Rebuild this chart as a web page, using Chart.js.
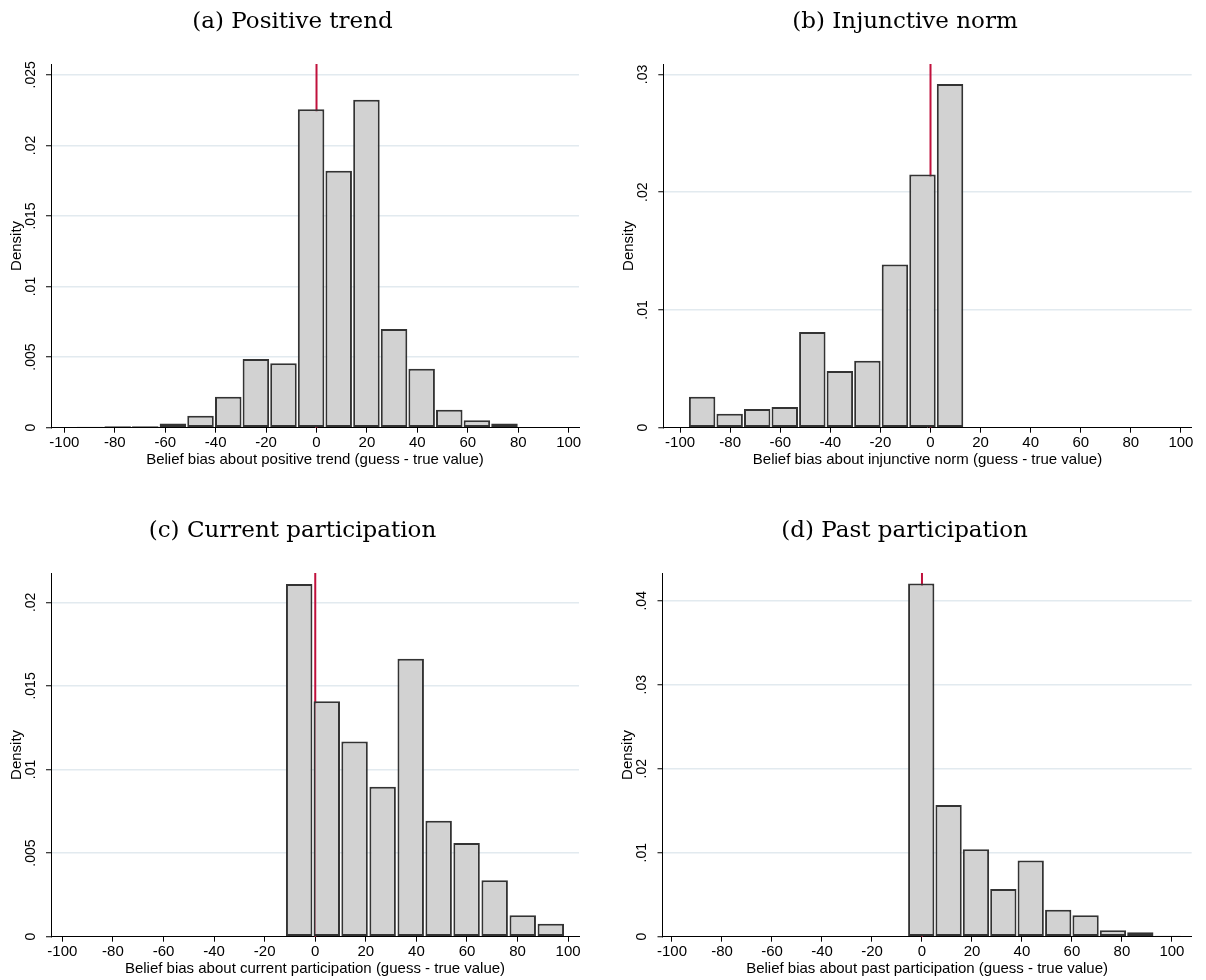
<!DOCTYPE html>
<html>
<head>
<meta charset="utf-8">
<title>Belief bias histograms</title>
<script src="https://cdn.jsdelivr.net/npm/chart.js@4.4.1/dist/chart.umd.min.js"></script>
<style>
  html, body { margin: 0; padding: 0; background: #fff; }
  body { position: relative; width: 1206px; height: 980px; overflow: hidden; }
  .panel { position: absolute; width: 603px; height: 471px; }
</style>
</head>
<body>
<div class="panel" style="left:0;top:0"><canvas id="chart-a"></canvas></div>
<div class="panel" style="left:603px;top:0"><canvas id="chart-b"></canvas></div>
<div class="panel" style="left:0;top:509px"><canvas id="chart-c"></canvas></div>
<div class="panel" style="left:603px;top:509px"><canvas id="chart-d"></canvas></div>
<script>
// histogram bin edges and densities, one pair per panel
let binEdgesA = [-95.3, -84.3, -73.4, -62.4, -51.5, -40.5, -29.5, -18.6, -7.6, 3.3, 14.3, 25.3, 36.2, 47.2, 58.1, 69.1, 80.0, 91.0];
let densityA = [0.00007, 0.0001, 0.0001, 0.0003, 0.00085, 0.0022, 0.00487, 0.00456, 0.02257, 0.0182, 0.02323, 0.007, 0.00418, 0.00127, 0.00052, 0.0003, 0.00005];

let binEdgesB = [-96.7, -85.7, -74.7, -63.7, -52.7, -41.7, -30.7, -19.7, -8.7, 2.3, 13.3];
let densityB = [0.00263, 0.00119, 0.00159, 0.00176, 0.00813, 0.00482, 0.00569, 0.01385, 0.0215, 0.02918];

let binEdgesC = [-11.8, -0.9, 10.0, 21.1, 32.2, 43.3, 54.3, 65.4, 76.5, 87.6, 98.7];
let densityC = [0.0211, 0.01408, 0.01168, 0.00897, 0.01663, 0.00694, 0.0056, 0.00337, 0.00128, 0.00078];

let binEdgesD = [-5.8, 5.2, 16.1, 27.1, 38.0, 49.0, 60.0, 70.9, 81.9, 92.8, 103.8];
let densityD = [0.04207, 0.01567, 0.01042, 0.00569, 0.00907, 0.00322, 0.00254, 0.00076, 0.00052, 0.0001];

// axis ticks
let xTicks = [-100, -80, -60, -40, -20, 0, 20, 40, 60, 80, 100];

let yTicksA = [0, 0.005, 0.01, 0.015, 0.02, 0.025];
let yLabelsA = ["0", ".005", ".01", ".015", ".02", ".025"];
let yTicksB = [0, 0.01, 0.02, 0.03];
let yLabelsB = ["0", ".01", ".02", ".03"];
let yTicksC = [0, 0.005, 0.01, 0.015, 0.02];
let yLabelsC = ["0", ".005", ".01", ".015", ".02"];
let yTicksD = [0, 0.01, 0.02, 0.03, 0.04];
let yLabelsD = ["0", ".01", ".02", ".03", ".04"];

// the guess equals the true value here
let trueValue = 0;

Chart.defaults.font.family = "'Liberation Sans', Arial, sans-serif";
Chart.defaults.color = "#000";

function binCenters(edges) {
  let centers = [];
  for (let i = 0; i < edges.length - 1; i++) {
    centers.push((edges[i] + edges[i + 1]) / 2);
  }
  return centers;
}

function renderHistogram(id, cfg) {
  let centers = binCenters(cfg.edges);
  let points = [];
  for (let i = 0; i < centers.length; i++) {
    points.push({ x: centers[i], y: cfg.density[i] });
  }

  new Chart(document.getElementById(id), {
    type: "bar",
    data: {
      datasets: [
        {
          type: "bar",
          data: points,
          backgroundColor: "#d2d2d2",
          borderColor: "#333333",
          borderWidth: 2,
          borderSkipped: false,
          barPercentage: 0.96,
          categoryPercentage: 1,
          order: 0,
        },
        {
          // vertical marker, drawn underneath the bars
          type: "line",
          data: [
            { x: trueValue, y: 0 },
            { x: trueValue, y: cfg.yMax },
          ],
          borderColor: "#c0113c",
          borderWidth: 2,
          pointRadius: 0,
          order: 1,
        },
      ],
    },
    options: {
      responsive: true,
      maintainAspectRatio: false,
      animation: false,
      layout: {
        padding: { left: cfg.padLeft, right: cfg.padRight, top: 0, bottom: 2.3 },
      },
      plugins: {
        legend: { display: false },
        tooltip: { enabled: false },
        title: {
          display: true,
          text: cfg.title,
          color: "#000",
          font: { family: "'DejaVu Serif', serif", size: 23, weight: "normal" },
          padding: { top: 8.5, bottom: 28 },
        },
      },
      scales: {
        x: {
          type: "linear",
          min: cfg.xMin,
          max: cfg.xMax,
          offset: false,
          afterBuildTicks: (axis) => {
            axis.ticks = xTicks.map((v) => ({ value: v }));
          },
          afterFit: (axis) => {
            axis.height = 41;
          },
          grid: {
            offset: false,
            drawOnChartArea: false,
            drawTicks: true,
            tickLength: 5,
            tickColor: "#000",
            tickWidth: 1,
          },
          border: { display: true, color: "#000", width: 1 },
          ticks: {
            autoSkip: false,
            maxRotation: 0,
            padding: 1,
            font: { size: 15 },
            color: "#000",
          },
          title: {
            display: true,
            text: cfg.xTitle,
            font: { size: 15 },
            color: "#000",
            padding: { top: 0, bottom: 0 },
          },
        },
        y: {
          type: "linear",
          min: 0,
          max: cfg.yMax,
          afterBuildTicks: (axis) => {
            axis.ticks = cfg.yTicks.map((v) => ({ value: v }));
          },
          afterFit: (axis) => {
            axis.width = 45;
          },
          grid: {
            color: (c) => (c.tick && c.tick.value === 0 ? "rgba(0,0,0,0)" : "#e2eaef"),
            lineWidth: 1.5,
            drawTicks: true,
            tickLength: 5,
            tickColor: "#000",
            tickWidth: 1,
          },
          border: { display: true, color: "#000", width: 1 },
          ticks: {
            autoSkip: false,
            minRotation: 90,
            maxRotation: 90,
            crossAlign: "center",
            padding: cfg.yTickPad,
            font: { size: 14 },
            color: "#000",
            callback: (value, index) => cfg.yLabels[index],
          },
          title: {
            display: true,
            text: "Density",
            font: { size: 15 },
            color: "#000",
            padding: { top: 1.5, bottom: 0 },
          },
        },
      },
    },
  });
}

renderHistogram("chart-a", {
  title: "(a) Positive trend",
  xTitle: "Belief bias about positive trend (guess - true value)",
  edges: binEdgesA, density: densityA,
  yTicks: yTicksA, yLabels: yLabelsA,
  xMin: -105.3, xMax: 104.1, yMax: 0.02576,
  padLeft: 6, padRight: 24, yTickPad: 1.4,
});

renderHistogram("chart-b", {
  title: "(b) Injunctive norm",
  xTitle: "Belief bias about injunctive norm (guess - true value)",
  edges: binEdgesB, density: densityB,
  yTicks: yTicksB, yLabels: yLabelsB,
  xMin: -106.7, xMax: 104.3, yMax: 0.03088,
  padLeft: 15.3, padRight: 14.3, yTickPad: 5.3,
});

renderHistogram("chart-c", {
  title: "(c) Current participation",
  xTitle: "Belief bias about current participation (guess - true value)",
  edges: binEdgesC, density: densityC,
  yTicks: yTicksC, yLabels: yLabelsC,
  xMin: -104.5, xMax: 104.3, yMax: 0.02175,
  padLeft: 6, padRight: 24, yTickPad: 1.4,
});

renderHistogram("chart-d", {
  title: "(d) Past participation",
  xTitle: "Belief bias about past participation (guess - true value)",
  edges: binEdgesD, density: densityD,
  yTicks: yTicksD, yLabels: yLabelsD,
  xMin: -103.8, xMax: 107.9, yMax: 0.0433,
  padLeft: 14.5, padRight: 14.3, yTickPad: 5.3,
});
</script>
</body>
</html>
